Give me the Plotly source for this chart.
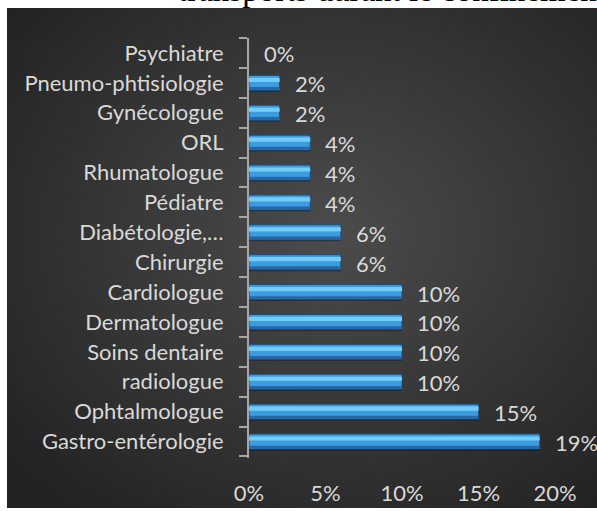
import base64
import plotly.graph_objects as go

categories = ["Gastro-entérologie", "Ophtalmologue", "radiologue", "Soins dentaire",
              "Dermatologue", "Cardiologue", "Chirurgie", "Diabétologie,…", "Pédiatre",
              "Rhumatologue", "ORL", "Gynécologue", "Pneumo-phtisiologie", "Psychiatre"]
values = [19, 15, 10, 10, 10, 10, 6, 6, 4, 4, 4, 2, 2, 0]
x_ticks = [0, 5, 10, 15, 20]
x_tick_labels = ["0%", "5%", "10%", "15%", "20%"]
title_text = "transports durant le confinement"

W, H = 597, 511
L, R, T, B = 249, 42, 38, 53
pw, ph = W - L - R, H - T - B

def px_x(p):
    return (p - L) / pw

def px_y(p):
    return (H - B - p) / ph

FONT = "Lato"
FS = 22
LBL = "#d9d9d9"

svg = ("<svg xmlns='http://www.w3.org/2000/svg' width='590' height='500' preserveAspectRatio='none'>"
       "<defs><radialGradient id='g' cx='55%' cy='45%' r='70%'>"
       "<stop offset='0' stop-color='#4c4c4c'/><stop offset='1' stop-color='#232323'/>"
       "</radialGradient></defs><rect width='590' height='500' fill='url(#g)'/></svg>")
src = "data:image/svg+xml;base64," + base64.b64encode(svg.encode()).decode()

fig = go.Figure()
# shadow
fig.add_trace(go.Bar(y=categories, x=values, orientation="h", width=0.5, offset=-0.3,
                     marker=dict(color="rgba(0,0,0,0.35)", line=dict(width=0)),
                     hoverinfo="skip", showlegend=False))
# main bar
fig.add_trace(go.Bar(y=categories, x=values, orientation="h", width=0.5, offset=-0.25,
                     marker=dict(color="#3d9be0", line=dict(color="#1b4d7e", width=1)),
                     showlegend=False))
# dark bottom band
fig.add_trace(go.Bar(y=categories, x=values, orientation="h", width=0.1, offset=-0.24,
                     marker=dict(color="#2867a6", line=dict(width=0)),
                     hoverinfo="skip", showlegend=False))
# highlight band
fig.add_trace(go.Bar(y=categories, x=values, orientation="h", width=0.14, offset=0.03,
                     marker=dict(color="#74cdf7", line=dict(width=0)),
                     hoverinfo="skip", showlegend=False))

for c, v in zip(categories, values):
    fig.add_annotation(x=v, y=c, text=f"{v}%", xanchor="left", yanchor="middle",
                       xshift=13, yshift=-1, showarrow=False,
                       font=dict(family=FONT, size=FS, color=LBL))

fig.add_annotation(xref="paper", yref="paper", x=px_x(176), y=px_y(10),
                   xanchor="left", yanchor="bottom", text=title_text, showarrow=False,
                   font=dict(family="Liberation Serif", size=33, color="black"))

fig.add_layout_image(source=src, xref="paper", yref="paper", x=px_x(7), y=px_y(8),
                     sizex=(W - 7) / pw, sizey=500 / ph, xanchor="left", yanchor="top",
                     sizing="stretch", layer="below")

fig.update_layout(
    width=W, height=H, margin=dict(l=L, r=R, t=T, b=B, autoexpand=False),
    paper_bgcolor="white", plot_bgcolor="rgba(0,0,0,0)",
    barmode="overlay", bargap=0.5,
    font=dict(family=FONT, size=FS, color=LBL),
    xaxis=dict(range=[0, 20], tickvals=x_ticks, ticktext=x_tick_labels,
               showgrid=False, zeroline=False, showline=False, ticks="",
               ticklabelstandoff=20, tickfont=dict(family=FONT, size=FS, color=LBL),
               fixedrange=True),
    yaxis=dict(categoryorder="array", categoryarray=categories, showgrid=False,
               zeroline=False, showline=True, linecolor="#a6a6a6", linewidth=2,
               ticks="outside", tickson="boundaries", ticklen=8, tickwidth=2,
               tickcolor="#a6a6a6", ticklabelstandoff=19,
               tickfont=dict(family=FONT, size=FS, color=LBL), fixedrange=True),
    showlegend=False,
)

fig.write_html("out.html", config={"displayModeBar": False},
               post_script="document.body.style.margin='0';")
